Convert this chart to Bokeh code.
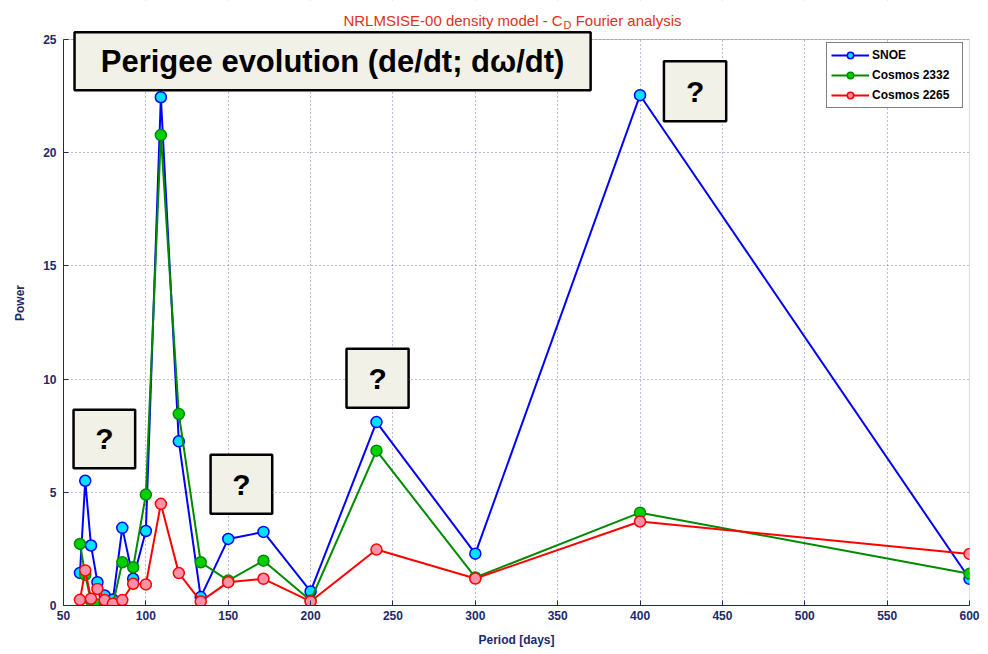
from bokeh.plotting import figure
from bokeh.models import Range1d, FixedTicker, Label, BoxAnnotation, Legend, LegendItem
from bokeh.embed import file_html
from bokeh.resources import INLINE

# ---- data ----
period = [60.0, 63.2, 66.7, 70.6, 75.0, 80.0, 85.7, 92.3, 100.0, 109.1,
          120.0, 133.3, 150.0, 171.4, 200.0, 240.0, 300.0, 400.0, 600.0]
snoe = [1.44, 5.51, 2.65, 1.03, 0.44, 0.26, 3.43, 1.18, 3.29, 22.45,
        7.25, 0.37, 2.94, 3.25, 0.62, 8.10, 2.29, 22.54, 1.18]
cosmos_2332 = [2.72, 1.35, 0.20, 0.04, 0.07, 0.05, 1.91, 1.69, 4.90, 20.78,
               8.46, 1.91, 1.10, 1.98, 0.22, 6.84, 1.24, 4.10, 1.40]
cosmos_2265 = [0.25, 1.55, 0.30, 0.73, 0.24, 0.08, 0.24, 0.96, 0.93, 4.49,
               1.43, 0.18, 1.03, 1.18, 0.18, 2.47, 1.19, 3.71, 2.28]
series_names = ["SNOE", "Cosmos 2332", "Cosmos 2265"]
x_ticks = [50, 100, 150, 200, 250, 300, 350, 400, 450, 500, 550, 600]
y_ticks = [0, 5, 10, 15, 20, 25]
X_MIN, X_MAX, Y_MIN, Y_MAX = 50, 600, 0, 25

# annotation boxes (left, right, top, bottom) in data units
q_boxes = [(56.1, 93.5, 8.65, 6.06), (139.3, 176.7, 6.66, 4.05),
           (221.8, 259.5, 11.34, 8.73), (414.5, 452.3, 24.04, 21.39)]
main_box = (56.7, 370.0, 25.32, 22.76)

NAVY = "#1b2a6b"
FONT = "Liberation Sans"

# frame extended upward so that the title row lives inside the frame
PX_PER_UNIT = 566 / 25.0
TOP_EXTRA = 39 / PX_PER_UNIT

p = figure(width=988, height=654, output_backend="svg", toolbar_location=None,
           x_range=Range1d(X_MIN, X_MAX), y_range=Range1d(Y_MIN, Y_MAX + TOP_EXTRA),
           min_border_left=63, min_border_right=19, min_border_top=0,
           min_border_bottom=49)
p.outline_line_color = None
p.background_fill_color = "white"
p.border_fill_color = "white"

for ax in (p.xaxis[0], p.yaxis[0]):
    ax.axis_line_color = NAVY
    ax.major_tick_line_color = NAVY
    ax.major_tick_in = 5
    ax.major_tick_out = 0
    ax.minor_tick_line_color = None
    ax.major_label_text_font = FONT
    ax.major_label_text_font_style = "bold"
    ax.major_label_text_font_size = "12px"
    ax.major_label_text_color = NAVY
    ax.axis_label_text_font = FONT
    ax.axis_label_text_font_style = "bold"
    ax.axis_label_text_font_size = "12px"
    ax.axis_label_text_color = NAVY

p.yaxis.bounds = (Y_MIN, Y_MAX)
p.xaxis.ticker = FixedTicker(ticks=x_ticks)
p.yaxis.ticker = FixedTicker(ticks=y_ticks)
p.xaxis.axis_label = "Period [days]"
p.yaxis.axis_label = "Power"
p.xaxis.major_label_standoff = 5
p.xaxis.axis_label_standoff = 10
p.yaxis.major_label_standoff = 7
p.yaxis.axis_label_standoff = 13

p.xgrid.ticker = FixedTicker(ticks=x_ticks)
p.ygrid.ticker = FixedTicker(ticks=y_ticks)
p.grid.grid_line_color = "#4a5a95"
p.grid.grid_line_dash = "1 3"
p.grid.grid_line_alpha = 0.8

# cover grid above the axes box, then draw the axes box
p.add_layout(BoxAnnotation(bottom=Y_MAX, fill_color="white", fill_alpha=1,
                           line_color=None, level="underlay"))
p.add_layout(BoxAnnotation(left=X_MIN, right=X_MAX, bottom=Y_MIN, top=Y_MAX,
                           fill_color=None, line_color=NAVY, line_width=1,
                           level="underlay"))

styles = [("#0000ff", "#00e1ff", "#0000ff"),
          ("#008a00", "#00d000", "#008a00"),
          ("#ff0000", "#ff90a8", "#ff0000")]
items = []
for name, vals, (lc, fc, ec) in zip(series_names, [snoe, cosmos_2332, cosmos_2265], styles):
    r1 = p.line(period, vals, line_color=lc, line_width=2)
    r2 = p.scatter(period, vals, size=11, fill_color=fc, line_color=ec, line_width=1.5)
    items.append(LegendItem(label=name, renderers=[r1, r2]))

legend = Legend(items=items, location=(763, 497),
                label_text_font=FONT, label_text_font_style="bold",
                label_text_font_size="12px", label_text_color="black",
                border_line_color="black", border_line_width=1,
                background_fill_color="white", background_fill_alpha=1,
                glyph_width=38, glyph_height=16, label_height=16, label_width=86,
                label_standoff=3, spacing=4, padding=4)
p.add_layout(legend)

# text boxes
BOXFILL = "#f2f1e7"
l, r, t, b = main_box
p.add_layout(BoxAnnotation(left=l, right=r, top=t, bottom=b, fill_color=BOXFILL,
                           fill_alpha=1, line_color="black", line_width=2.5,
                           line_alpha=1, level="overlay"))
p.add_layout(Label(x=(l + r) / 2, y=(t + b) / 2, text="Perigee evolution (de/dt; d\u03c9/dt)",
                   text_align="center", text_baseline="middle", text_font=FONT,
                   text_font_style="bold", text_font_size="31px", text_color="black",
                   level="overlay"))
for (l, r, t, b) in q_boxes:
    p.add_layout(BoxAnnotation(left=l, right=r, top=t, bottom=b, fill_color=BOXFILL,
                               fill_alpha=1, line_color="black", line_width=2.5,
                               line_alpha=1, level="overlay"))
    p.add_layout(Label(x=(l + r) / 2, y=(t + b) / 2, text="?", text_align="center",
                       text_baseline="middle", text_font=FONT, text_font_style="bold",
                       text_font_size="30px", text_color="black", level="overlay"))

# title with subscript
TITLE_RED = "#e03020"
p.add_layout(Label(x=353.0, y=25.84, text="NRLMSISE-00 density model - C", text_align="right",
                   text_baseline="alphabetic", text_font=FONT, text_font_size="15px",
                   text_color=TITLE_RED))
p.add_layout(Label(x=353.6, y=25.64, text="D", text_align="left",
                   text_baseline="alphabetic", text_font=FONT, text_font_size="11px",
                   text_color=TITLE_RED))
p.add_layout(Label(x=360.9, y=25.84, text="Fourier analysis", text_align="left",
                   text_baseline="alphabetic", text_font=FONT, text_font_size="15px",
                   text_color=TITLE_RED))

open("out.html", "w").write(file_html(p, INLINE))
